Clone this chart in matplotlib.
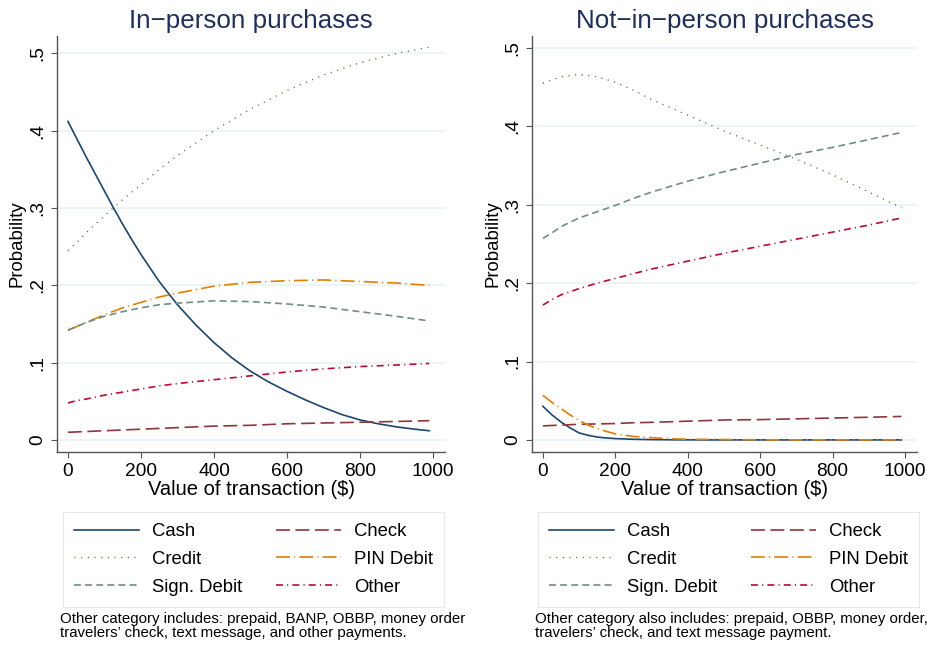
import matplotlib
matplotlib.use("Agg")
from matplotlib import pyplot as plt

plt.rcParams['font.family'] = ['Liberation Sans', 'DejaVu Sans']
plt.rcParams['lines.scale_dashes'] = False

# transaction values ($): a coarse grid for the flat curves, a fine one for the steep ones
x = [0, 25, 50, 100, 150, 200, 250, 300, 400, 500, 600, 700, 800, 900, 990]
x_fine = [0, 25, 50, 75, 100, 125, 150, 175, 200, 250, 300, 350, 400, 450, 500,
          550, 600, 650, 700, 750, 800, 850, 900, 950, 990]

# in-person purchases
cash_in = [0.412, 0.389, 0.366, 0.344, 0.322, 0.300, 0.279, 0.259, 0.240, 0.205, 0.175, 0.149, 0.126,
           0.106, 0.089, 0.075, 0.063, 0.052, 0.042, 0.033, 0.026, 0.021, 0.017, 0.014, 0.012]
check_in = [0.010, 0.0105, 0.011, 0.012, 0.013, 0.014, 0.015, 0.016, 0.018, 0.019, 0.021, 0.022, 0.023, 0.024, 0.025]
credit_in = [0.245, 0.256, 0.268, 0.290, 0.311, 0.330, 0.350, 0.368, 0.400, 0.428, 0.452, 0.472, 0.488, 0.500, 0.508]
pin_in = [0.142, 0.147, 0.152, 0.162, 0.171, 0.178, 0.185, 0.190, 0.199, 0.204, 0.206, 0.207, 0.205, 0.203, 0.200]
sign_in = [0.142, 0.147, 0.152, 0.160, 0.166, 0.171, 0.175, 0.177, 0.180, 0.179, 0.176, 0.172, 0.166, 0.160, 0.154]
other_in = [0.048, 0.051, 0.053, 0.058, 0.062, 0.066, 0.070, 0.073, 0.078, 0.083, 0.088, 0.092, 0.095, 0.097, 0.099]

# not-in-person purchases
cash_out = [0.043, 0.032, 0.023, 0.0155, 0.009, 0.006, 0.0037, 0.0026, 0.0018, 0.0009, 0.0005, 0.0003, 0.0002,
            0.0001, 0.0001, 0.0001, 0.0001, 0.0001, 0.0001, 0.0001, 0.0001, 0.0001, 0.0001, 0.0001, 0.0001]
check_out = [0.018, 0.0185, 0.019, 0.020, 0.0205, 0.021, 0.022, 0.0225, 0.024, 0.0255, 0.026, 0.027, 0.028, 0.029, 0.030]
credit_out = [0.455, 0.459, 0.463, 0.466, 0.463, 0.456, 0.446, 0.434, 0.414, 0.394, 0.376, 0.358, 0.338, 0.316, 0.296]
pin_out = [0.057, 0.048, 0.040, 0.032, 0.025, 0.019, 0.0145, 0.011, 0.0078, 0.0045, 0.003, 0.0016, 0.001,
           0.0008, 0.0006, 0.0004, 0.0003, 0.0002, 0.0002, 0.0002, 0.0002, 0.0002, 0.0002, 0.0002, 0.0002]
sign_out = [0.257, 0.264, 0.272, 0.283, 0.291, 0.299, 0.308, 0.316, 0.330, 0.342, 0.353, 0.364, 0.373, 0.383, 0.392]
other_out = [0.172, 0.179, 0.185, 0.193, 0.200, 0.206, 0.212, 0.218, 0.228, 0.238, 0.247, 0.256, 0.265, 0.274, 0.283]

yticks = [0, 0.1, 0.2, 0.3, 0.4, 0.5]
ytick_labels = ['0', '.1', '.2', '.3', '.4', '.5']
xticks = [0, 200, 400, 600, 800, 1000]

# label, colour, dash pattern (points)
styles = {
    'Cash': ('#1a476f', '-'),
    'Check': ('#90353b', (0, (10, 4))),
    'Credit': ('#55752f', (0, (0.8, 4))),
    'PIN Debit': ('#e37e00', (0, (10, 3, 0.8, 3))),
    'Sign. Debit': ('#6e8e84', (0, (5, 3))),
    'Other': ('#c10534', (0, (5, 3, 0.8, 3))),
}

fig = plt.figure(figsize=(9.27, 6.45), dpi=100)


def panel(rect, title, series, ylim, note, legend_rect):
    ax = fig.add_axes(rect)
    for name, xs, vals in series:
        color, ls = styles[name]
        lw = 1.0 if name == 'Credit' else 1.2
        ax.plot(xs, vals, color=color, linestyle=ls, linewidth=lw, label=name)
    ax.set_xlim(-30, 1033)
    ax.set_ylim(*ylim)
    ax.set_yticks(yticks)
    ax.set_yticklabels(ytick_labels, rotation=90, va='center')
    ax.set_xticks(xticks)
    ax.grid(axis='y', color='#eaf2f3', linewidth=1.2)
    ax.set_axisbelow(True)
    for s in ['top', 'right']:
        ax.spines[s].set_visible(False)
    for s in ['left', 'bottom']:
        ax.spines[s].set_color('#555555')
        ax.spines[s].set_linewidth(1.0)
    ax.tick_params(labelsize=13.8, length=4.5, color='#555555', pad=3.5)
    ax.set_xlabel('Value of transaction ($)', fontsize=14.5, labelpad=0)
    ax.set_ylabel('Probability', fontsize=13.4, labelpad=0)
    ax.yaxis.set_label_coords(-0.08, 0.5)
    ax.set_title(title, fontsize=18.7, color='#1e2f5e', pad=6)

    handles, labels = ax.get_legend_handles_labels()
    order = [0, 2, 4, 1, 3, 5]
    leg = fig.legend([handles[i] for i in order], [labels[i] for i in order],
                     ncol=2, loc='upper left', bbox_to_anchor=legend_rect,
                     fontsize=13.3, frameon=True, fancybox=False,
                     handlelength=3.5, handletextpad=0.7, columnspacing=1.85,
                     labelspacing=0.58, borderpad=0.6, borderaxespad=0)
    leg.get_frame().set_edgecolor('#e3e3e3')
    leg.get_frame().set_linewidth(0.8)
    fig.text(legend_rect[0] - 0.003, 0.030, note, fontsize=10.8,
             va='center', ha='left', linespacing=1.0)
    return ax


left_series = [('Cash', x_fine, cash_in), ('Check', x, check_in), ('Credit', x, credit_in),
               ('PIN Debit', x, pin_in), ('Sign. Debit', x, sign_in), ('Other', x, other_in)]
right_series = [('Cash', x_fine, cash_out), ('Check', x, check_out), ('Credit', x, credit_out),
                ('PIN Debit', x_fine, pin_out), ('Sign. Debit', x, sign_out), ('Other', x, other_out)]

panel([57 / 927, 1 - 452 / 645, 388 / 927, 416 / 645], 'In\u2212person purchases',
      left_series, (-0.0155, 0.5225),
      "Other category includes: prepaid, BANP, OBBP, money order\n"
      "travelers\u2019 check, text message, and other payments.",
      (63 / 927, 1 - 512 / 645))

panel([532 / 927, 1 - 452 / 645, 385 / 927, 416 / 645], 'Not\u2212in\u2212person purchases',
      right_series, (-0.0153, 0.515),
      "Other category also includes: prepaid, OBBP, money order,\n"
      "travelers\u2019 check, and text message payment.",
      (538 / 927, 1 - 512 / 645))

fig.savefig('out.png', dpi=100)
